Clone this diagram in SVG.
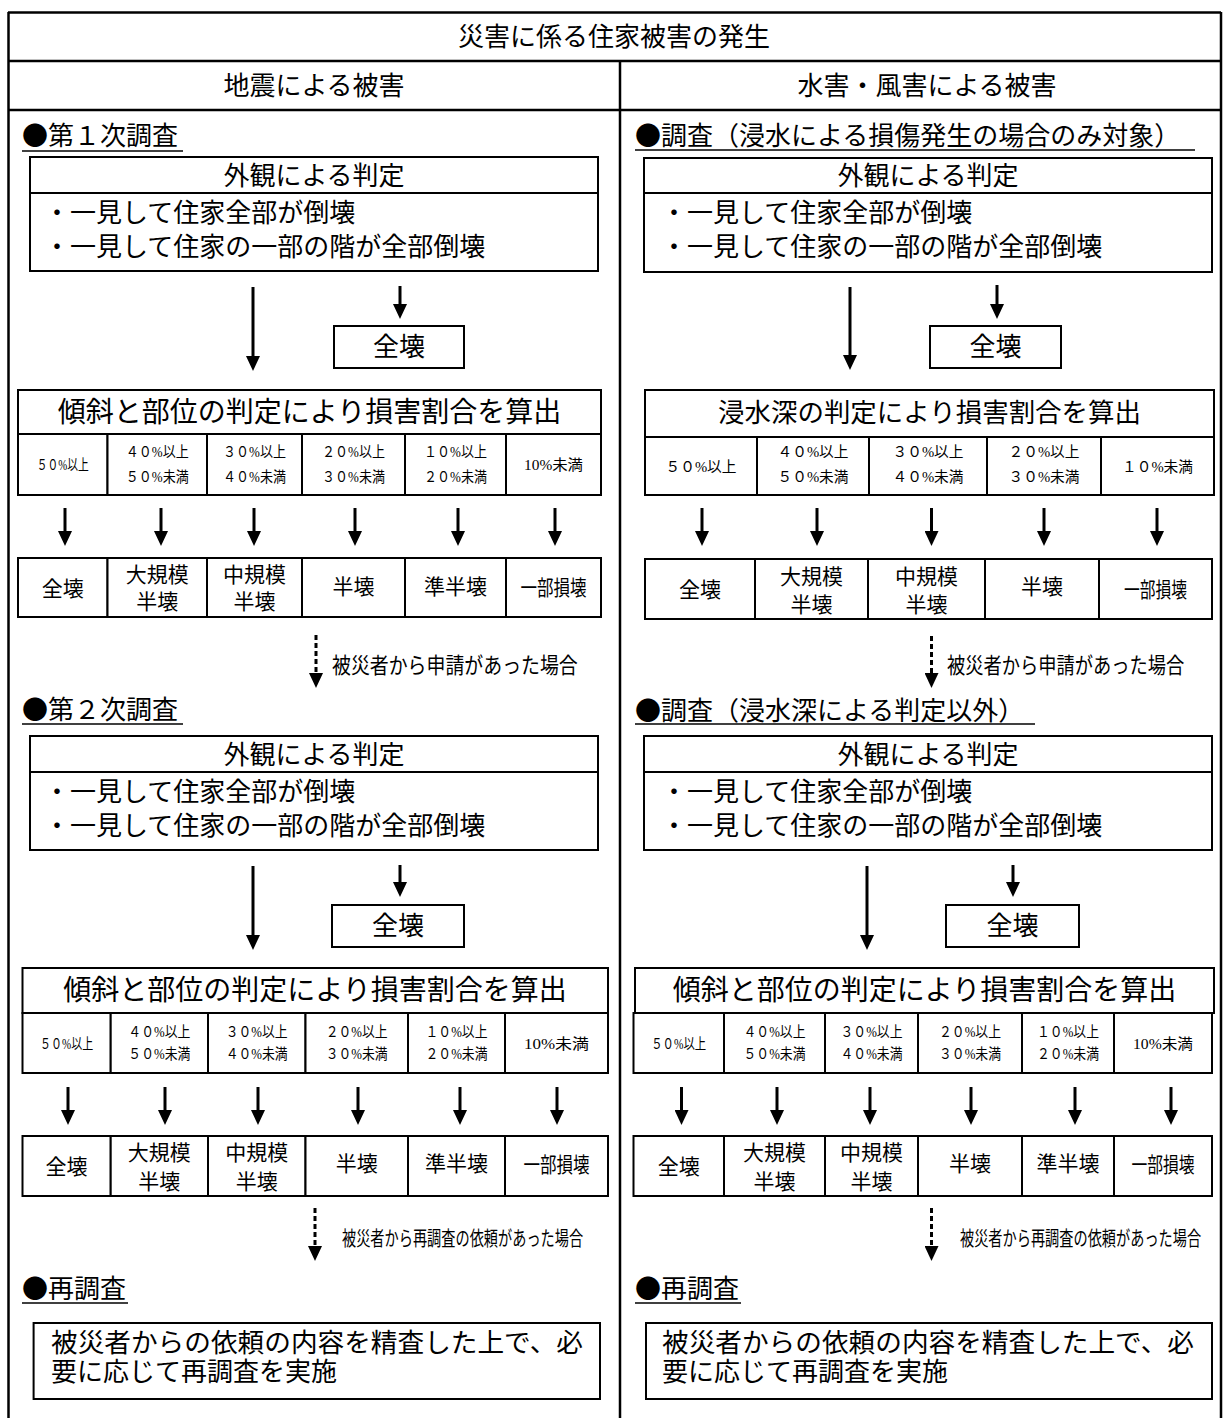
<svg xmlns="http://www.w3.org/2000/svg" width="1223" height="1418" viewBox="0 0 1223 1418">
<defs>
<style>
.fr{fill:none;stroke:#000;stroke-width:2.5}
.bx{fill:#fff;stroke:#000;stroke-width:2}
.ln{stroke:#000;stroke-width:2;fill:none}
.ul{stroke:#000;stroke-width:1.6}
text{font-family:"Liberation Serif","Noto Sans CJK JP",serif;fill:#000;dominant-baseline:central}
.hd{font-family:"Noto Sans CJK JP",sans-serif}
.c{text-anchor:middle}
.f26{font-size:26px}
.f28{font-size:28px}
.f21{font-size:21px}
.f15{font-size:15px}
.f22{font-size:22px}
.f20{font-size:20px}
.sh{stroke:#000;stroke-width:3;fill:none}
.dt{stroke:#000;stroke-width:3;fill:none;stroke-dasharray:5 3}
</style>
<marker id="ah" markerUnits="userSpaceOnUse" markerWidth="15" markerHeight="14" refX="0" refY="7" orient="auto" viewBox="0 0 15 14">
<path d="M0,0 L15,7 L0,14 z" fill="#000"/>
</marker>
</defs>
<rect width="1223" height="1418" fill="#fff"/>

<g id="frame">
<line class="fr" x1="8" y1="12.5" x2="1221" y2="12.5"/>
<line class="fr" x1="8.5" y1="12" x2="8.5" y2="1418"/>
<line class="fr" x1="1221" y1="12" x2="1221" y2="1418"/>
<line class="fr" x1="8" y1="61" x2="1221" y2="61"/>
<line class="fr" x1="8" y1="110" x2="1221" y2="110"/>
<line class="fr" x1="620" y1="61" x2="620" y2="1418"/>
</g>
<g id="title"><text class="c f26" x="614" y="37">災害に係る住家被害の発生</text></g>
<g id="hdr-quake"><text class="c f26" x="314" y="86">地震による被害</text></g>
<g id="hdr-flood"><text class="c f26" x="927" y="86">水害・風害による被害</text></g>

<!-- LEFT FIRST -->
<g id="L1-head"><text class="f26 hd" x="22" y="133">●第１次調査</text><line class="ul" x1="22" y1="151" x2="183" y2="151"/></g>
<g id="L1-visual">
<rect class="bx" x="30" y="157" width="568" height="114"/>
<line class="ln" x1="30" y1="193" x2="598" y2="193"/>
<text class="c f26" x="314" y="176">外観による判定</text>
<text class="f26" x="44" y="213">・一見して住家全部が倒壊</text>
<text class="f26" x="44" y="247">・一見して住家の一部の階が全部倒壊</text>
</g>
<g id="L1-total"><rect class="bx" x="334" y="326" width="130" height="42"/><text class="c f26" x="399" y="347">全壊</text></g>
<g id="L1-ratio">
<rect class="bx" x="18" y="390" width="583" height="44"/>
<text class="c f28" x="309.5" y="412">傾斜と部位の判定により損害割合を算出</text>
</g>
<g id="L1-pct">
<rect class="bx" x="18" y="434" width="89.5" height="61"/>
<rect class="bx" x="107.5" y="434" width="99.5" height="61"/>
<rect class="bx" x="207" y="434" width="95" height="61"/>
<rect class="bx" x="302" y="434" width="103" height="61"/>
<rect class="bx" x="405" y="434" width="101" height="61"/>
<rect class="bx" x="506" y="434" width="95" height="61"/>
<text class="c f15" x="62.75" y="465" textLength="52" lengthAdjust="spacingAndGlyphs">５０%以上</text>
<text class="c f15" x="157.25" y="452" textLength="63" lengthAdjust="spacingAndGlyphs">４０%以上</text>
<text class="c f15" x="157.25" y="477" textLength="63" lengthAdjust="spacingAndGlyphs">５０%未満</text>
<text class="c f15" x="254.5" y="452" textLength="63" lengthAdjust="spacingAndGlyphs">３０%以上</text>
<text class="c f15" x="254.5" y="477" textLength="63" lengthAdjust="spacingAndGlyphs">４０%未満</text>
<text class="c f15" x="353.5" y="452" textLength="63" lengthAdjust="spacingAndGlyphs">２０%以上</text>
<text class="c f15" x="353.5" y="477" textLength="63" lengthAdjust="spacingAndGlyphs">３０%未満</text>
<text class="c f15" x="455.5" y="452" textLength="63" lengthAdjust="spacingAndGlyphs">１０%以上</text>
<text class="c f15" x="455.5" y="477" textLength="63" lengthAdjust="spacingAndGlyphs">２０%未満</text>
<text class="c f15" x="553.5" y="465" textLength="59" lengthAdjust="spacingAndGlyphs">10%未満</text>
</g>
<g id="L1-res">
<rect class="bx" x="18" y="558" width="89.5" height="59"/>
<rect class="bx" x="107.5" y="558" width="99.5" height="59"/>
<rect class="bx" x="207" y="558" width="95" height="59"/>
<rect class="bx" x="302" y="558" width="103" height="59"/>
<rect class="bx" x="405" y="558" width="101" height="59"/>
<rect class="bx" x="506" y="558" width="95" height="59"/>
<text class="c f21" x="62.75" y="589">全壊</text>
<text class="c f21" x="157.25" y="575">大規模</text>
<text class="c f21" x="157.25" y="602">半壊</text>
<text class="c f21" x="254.5" y="575">中規模</text>
<text class="c f21" x="254.5" y="602">半壊</text>
<text class="c f21" x="353.5" y="587">半壊</text>
<text class="c f21" x="455.5" y="587">準半壊</text>
<text class="c f21" x="553.5" y="588" textLength="66" lengthAdjust="spacingAndGlyphs">一部損壊</text>
</g>
<g id="L1-note"><text class="f22" transform="translate(332,665) scale(0.86,1)" x="0" y="0">被災者から申請があった場合</text></g>

<!-- LEFT SECOND -->
<g id="L2-head"><text class="f26 hd" x="22" y="707">●第２次調査</text><line class="ul" x1="22" y1="724" x2="183" y2="724"/></g>
<g id="L2-visual">
<rect class="bx" x="30" y="736" width="568" height="114"/>
<line class="ln" x1="30" y1="772" x2="598" y2="772"/>
<text class="c f26" x="314" y="755">外観による判定</text>
<text class="f26" x="44" y="792">・一見して住家全部が倒壊</text>
<text class="f26" x="44" y="826">・一見して住家の一部の階が全部倒壊</text>
</g>
<g id="L2-total"><rect class="bx" x="332" y="905" width="132" height="42"/><text class="c f26" x="398" y="926">全壊</text></g>
<g id="L2-ratio">
<rect class="bx" x="22.5" y="968" width="585.5" height="45"/>
<text class="c f28" x="315" y="990">傾斜と部位の判定により損害割合を算出</text>
</g>
<g id="L2-pct">
<rect class="bx" x="22.5" y="1013" width="88.2" height="60"/>
<rect class="bx" x="110.7" y="1013" width="97.3" height="60"/>
<rect class="bx" x="208" y="1013" width="97.5" height="60"/>
<rect class="bx" x="305.5" y="1013" width="102.5" height="60"/>
<rect class="bx" x="408" y="1013" width="97" height="60"/>
<rect class="bx" x="505" y="1013" width="103" height="60"/>
<text class="c f15" x="66.6" y="1044" textLength="53" lengthAdjust="spacingAndGlyphs">５０%以上</text>
<text class="c f15" x="159.3" y="1032" textLength="62" lengthAdjust="spacingAndGlyphs">４０%以上</text>
<text class="c f15" x="159.3" y="1054" textLength="62" lengthAdjust="spacingAndGlyphs">５０%未満</text>
<text class="c f15" x="256.7" y="1032" textLength="62" lengthAdjust="spacingAndGlyphs">３０%以上</text>
<text class="c f15" x="256.7" y="1054" textLength="62" lengthAdjust="spacingAndGlyphs">４０%未満</text>
<text class="c f15" x="356.7" y="1032" textLength="62" lengthAdjust="spacingAndGlyphs">２０%以上</text>
<text class="c f15" x="356.7" y="1054" textLength="62" lengthAdjust="spacingAndGlyphs">３０%未満</text>
<text class="c f15" x="456.5" y="1032" textLength="62" lengthAdjust="spacingAndGlyphs">１０%以上</text>
<text class="c f15" x="456.5" y="1054" textLength="62" lengthAdjust="spacingAndGlyphs">２０%未満</text>
<text class="c f15" x="556.5" y="1044" textLength="65" lengthAdjust="spacingAndGlyphs">10%未満</text>
</g>
<g id="L2-res">
<rect class="bx" x="22.5" y="1136" width="88.2" height="60"/>
<rect class="bx" x="110.7" y="1136" width="97.3" height="60"/>
<rect class="bx" x="208" y="1136" width="97.5" height="60"/>
<rect class="bx" x="305.5" y="1136" width="102.5" height="60"/>
<rect class="bx" x="408" y="1136" width="97" height="60"/>
<rect class="bx" x="505" y="1136" width="103" height="60"/>
<text class="c f21" x="66.6" y="1167">全壊</text>
<text class="c f21" x="159.3" y="1153">大規模</text>
<text class="c f21" x="159.3" y="1182">半壊</text>
<text class="c f21" x="256.7" y="1153">中規模</text>
<text class="c f21" x="256.7" y="1182">半壊</text>
<text class="c f21" x="356.7" y="1164">半壊</text>
<text class="c f21" x="456.5" y="1164">準半壊</text>
<text class="c f21" x="556.5" y="1165" textLength="66" lengthAdjust="spacingAndGlyphs">一部損壊</text>
</g>
<g id="L2-note"><text class="f20" transform="translate(342,1240) scale(0.71,1)" x="0" y="0">被災者から再調査の依頼があった場合</text></g>
<g id="L3-head"><text class="f26 hd" x="22" y="1286">●再調査</text><line class="ul" x1="22" y1="1303" x2="128" y2="1303"/></g>
<g id="L3-box">
<rect class="bx" x="33.6" y="1323" width="566.4" height="76"/>
<text class="f26" x="51" y="1343" textLength="532" lengthAdjust="spacingAndGlyphs">被災者からの依頼の内容を精査した上で、必</text>
<text class="f26" x="51" y="1372">要に応じて再調査を実施</text>
</g>

<!-- RIGHT FIRST -->
<g id="R1-head"><text class="f26 hd" x="635" y="133">●調査（浸水による損傷発生の場合のみ対象）</text><line class="ul" x1="635" y1="150" x2="1195" y2="150"/></g>
<g id="R1-visual">
<rect class="bx" x="644" y="158" width="568" height="114"/>
<line class="ln" x1="644" y1="193" x2="1212" y2="193"/>
<text class="c f26" x="928" y="176">外観による判定</text>
<text class="f26" x="661" y="213">・一見して住家全部が倒壊</text>
<text class="f26" x="661" y="247">・一見して住家の一部の階が全部倒壊</text>
</g>
<g id="R1-total"><rect class="bx" x="930" y="326" width="131" height="42"/><text class="c f26" x="995.5" y="347">全壊</text></g>
<g id="R1-ratio">
<rect class="bx" x="645" y="390" width="569" height="47"/>
<text class="c f26" x="929.5" y="413" textLength="423" lengthAdjust="spacingAndGlyphs">浸水深の判定により損害割合を算出</text>
</g>
<g id="R1-pct">
<rect class="bx" x="645" y="437" width="112" height="58"/>
<rect class="bx" x="757" y="437" width="112" height="58"/>
<rect class="bx" x="869" y="437" width="118" height="58"/>
<rect class="bx" x="987" y="437" width="114" height="58"/>
<rect class="bx" x="1101" y="437" width="113" height="58"/>
<text class="c f15" x="701" y="467" textLength="71" lengthAdjust="spacingAndGlyphs">５０%以上</text>
<text class="c f15" x="813" y="452" textLength="71" lengthAdjust="spacingAndGlyphs">４０%以上</text>
<text class="c f15" x="813" y="477" textLength="71" lengthAdjust="spacingAndGlyphs">５０%未満</text>
<text class="c f15" x="928" y="452" textLength="71" lengthAdjust="spacingAndGlyphs">３０%以上</text>
<text class="c f15" x="928" y="477" textLength="71" lengthAdjust="spacingAndGlyphs">４０%未満</text>
<text class="c f15" x="1044" y="452" textLength="71" lengthAdjust="spacingAndGlyphs">２０%以上</text>
<text class="c f15" x="1044" y="477" textLength="71" lengthAdjust="spacingAndGlyphs">３０%未満</text>
<text class="c f15" x="1157.5" y="467" textLength="71" lengthAdjust="spacingAndGlyphs">１０%未満</text>
</g>
<g id="R1-res">
<rect class="bx" x="645" y="559" width="110" height="60"/>
<rect class="bx" x="755" y="559" width="113" height="60"/>
<rect class="bx" x="868" y="559" width="117" height="60"/>
<rect class="bx" x="985" y="559" width="114" height="60"/>
<rect class="bx" x="1099" y="559" width="113" height="60"/>
<text class="c f21" x="700" y="590">全壊</text>
<text class="c f21" x="811.5" y="577">大規模</text>
<text class="c f21" x="811.5" y="605">半壊</text>
<text class="c f21" x="926.5" y="577">中規模</text>
<text class="c f21" x="926.5" y="605">半壊</text>
<text class="c f21" x="1042" y="587">半壊</text>
<text class="c f21" x="1155.5" y="590" textLength="63" lengthAdjust="spacingAndGlyphs">一部損壊</text>
</g>
<g id="R1-note"><text class="f22" transform="translate(947,665) scale(0.83,1)" x="0" y="0">被災者から申請があった場合</text></g>

<!-- RIGHT SECOND -->
<g id="R2-head"><text class="f26 hd" x="635" y="708">●調査（浸水深による判定以外）</text><line class="ul" x1="635" y1="724" x2="1035" y2="724"/></g>
<g id="R2-visual">
<rect class="bx" x="644" y="736" width="568" height="114"/>
<line class="ln" x1="644" y1="772" x2="1212" y2="772"/>
<text class="c f26" x="928" y="755">外観による判定</text>
<text class="f26" x="661" y="792">・一見して住家全部が倒壊</text>
<text class="f26" x="661" y="826">・一見して住家の一部の階が全部倒壊</text>
</g>
<g id="R2-total"><rect class="bx" x="946" y="905" width="133" height="42"/><text class="c f26" x="1012.5" y="926">全壊</text></g>
<g id="R2-ratio">
<rect class="bx" x="635" y="968" width="579" height="45"/>
<text class="c f28" x="924.5" y="990">傾斜と部位の判定により損害割合を算出</text>
</g>
<g id="R2-pct">
<rect class="bx" x="633.5" y="1013" width="90.5" height="60"/>
<rect class="bx" x="724" y="1013" width="101" height="60"/>
<rect class="bx" x="825" y="1013" width="93" height="60"/>
<rect class="bx" x="918" y="1013" width="104" height="60"/>
<rect class="bx" x="1022" y="1013" width="92" height="60"/>
<rect class="bx" x="1114" y="1013" width="98" height="60"/>
<text class="c f15" x="678.7" y="1044" textLength="55" lengthAdjust="spacingAndGlyphs">５０%以上</text>
<text class="c f15" x="774.5" y="1032" textLength="62" lengthAdjust="spacingAndGlyphs">４０%以上</text>
<text class="c f15" x="774.5" y="1054" textLength="62" lengthAdjust="spacingAndGlyphs">５０%未満</text>
<text class="c f15" x="871.5" y="1032" textLength="62" lengthAdjust="spacingAndGlyphs">３０%以上</text>
<text class="c f15" x="871.5" y="1054" textLength="62" lengthAdjust="spacingAndGlyphs">４０%未満</text>
<text class="c f15" x="970" y="1032" textLength="62" lengthAdjust="spacingAndGlyphs">２０%以上</text>
<text class="c f15" x="970" y="1054" textLength="62" lengthAdjust="spacingAndGlyphs">３０%未満</text>
<text class="c f15" x="1068" y="1032" textLength="62" lengthAdjust="spacingAndGlyphs">１０%以上</text>
<text class="c f15" x="1068" y="1054" textLength="62" lengthAdjust="spacingAndGlyphs">２０%未満</text>
<text class="c f15" x="1163" y="1044" textLength="60" lengthAdjust="spacingAndGlyphs">10%未満</text>
</g>
<g id="R2-res">
<rect class="bx" x="633.5" y="1136" width="90.5" height="60"/>
<rect class="bx" x="724" y="1136" width="101" height="60"/>
<rect class="bx" x="825" y="1136" width="93" height="60"/>
<rect class="bx" x="918" y="1136" width="104" height="60"/>
<rect class="bx" x="1022" y="1136" width="92" height="60"/>
<rect class="bx" x="1114" y="1136" width="98" height="60"/>
<text class="c f21" x="678.7" y="1167">全壊</text>
<text class="c f21" x="774.5" y="1153">大規模</text>
<text class="c f21" x="774.5" y="1182">半壊</text>
<text class="c f21" x="871.5" y="1153">中規模</text>
<text class="c f21" x="871.5" y="1182">半壊</text>
<text class="c f21" x="970" y="1164">半壊</text>
<text class="c f21" x="1068" y="1164">準半壊</text>
<text class="c f21" x="1163" y="1165" textLength="63" lengthAdjust="spacingAndGlyphs">一部損壊</text>
</g>
<g id="R2-note"><text class="f20" transform="translate(960,1240) scale(0.71,1)" x="0" y="0">被災者から再調査の依頼があった場合</text></g>
<g id="R3-head"><text class="f26 hd" x="635" y="1286">●再調査</text><line class="ul" x1="635" y1="1303" x2="741" y2="1303"/></g>
<g id="R3-box">
<rect class="bx" x="646" y="1323" width="566" height="76"/>
<text class="f26" x="662" y="1343" textLength="532" lengthAdjust="spacingAndGlyphs">被災者からの依頼の内容を精査した上で、必</text>
<text class="f26" x="662" y="1372">要に応じて再調査を実施</text>
</g>

<g id="connectors">
<line class="sh" x1="253" y1="287" x2="253" y2="356" marker-end="url(#ah)"/>
<line class="sh" x1="400" y1="286" x2="400" y2="304" marker-end="url(#ah)"/>
<line class="sh" x1="65" y1="508" x2="65" y2="531" marker-end="url(#ah)"/>
<line class="sh" x1="161" y1="508" x2="161" y2="531" marker-end="url(#ah)"/>
<line class="sh" x1="254" y1="508" x2="254" y2="531" marker-end="url(#ah)"/>
<line class="sh" x1="355" y1="508" x2="355" y2="531" marker-end="url(#ah)"/>
<line class="sh" x1="458" y1="508" x2="458" y2="531" marker-end="url(#ah)"/>
<line class="sh" x1="555" y1="508" x2="555" y2="531" marker-end="url(#ah)"/>
<line class="dt" x1="316" y1="635" x2="316" y2="673" marker-end="url(#ah)"/>
<line class="sh" x1="253" y1="866" x2="253" y2="935" marker-end="url(#ah)"/>
<line class="sh" x1="400" y1="865" x2="400" y2="882" marker-end="url(#ah)"/>
<line class="sh" x1="68" y1="1087" x2="68" y2="1110" marker-end="url(#ah)"/>
<line class="sh" x1="165" y1="1087" x2="165" y2="1110" marker-end="url(#ah)"/>
<line class="sh" x1="258" y1="1087" x2="258" y2="1110" marker-end="url(#ah)"/>
<line class="sh" x1="358" y1="1087" x2="358" y2="1110" marker-end="url(#ah)"/>
<line class="sh" x1="460" y1="1087" x2="460" y2="1110" marker-end="url(#ah)"/>
<line class="sh" x1="557" y1="1087" x2="557" y2="1110" marker-end="url(#ah)"/>
<line class="dt" x1="315" y1="1208" x2="315" y2="1246" marker-end="url(#ah)"/>
<line class="sh" x1="850" y1="287" x2="850" y2="355" marker-end="url(#ah)"/>
<line class="sh" x1="997" y1="285" x2="997" y2="304" marker-end="url(#ah)"/>
<line class="sh" x1="702" y1="508" x2="702" y2="531" marker-end="url(#ah)"/>
<line class="sh" x1="817" y1="508" x2="817" y2="531" marker-end="url(#ah)"/>
<line class="sh" x1="931.5" y1="508" x2="931.5" y2="531" marker-end="url(#ah)"/>
<line class="sh" x1="1044" y1="508" x2="1044" y2="531" marker-end="url(#ah)"/>
<line class="sh" x1="1157" y1="508" x2="1157" y2="531" marker-end="url(#ah)"/>
<line class="dt" x1="931.5" y1="636" x2="931.5" y2="673" marker-end="url(#ah)"/>
<line class="sh" x1="867" y1="866" x2="867" y2="935" marker-end="url(#ah)"/>
<line class="sh" x1="1013" y1="865" x2="1013" y2="882" marker-end="url(#ah)"/>
<line class="sh" x1="681.5" y1="1087" x2="681.5" y2="1110" marker-end="url(#ah)"/>
<line class="sh" x1="777" y1="1087" x2="777" y2="1110" marker-end="url(#ah)"/>
<line class="sh" x1="870" y1="1087" x2="870" y2="1110" marker-end="url(#ah)"/>
<line class="sh" x1="971" y1="1087" x2="971" y2="1110" marker-end="url(#ah)"/>
<line class="sh" x1="1075" y1="1087" x2="1075" y2="1110" marker-end="url(#ah)"/>
<line class="sh" x1="1171" y1="1087" x2="1171" y2="1110" marker-end="url(#ah)"/>
<line class="dt" x1="931.5" y1="1208" x2="931.5" y2="1246" marker-end="url(#ah)"/>
</g>
</svg>
